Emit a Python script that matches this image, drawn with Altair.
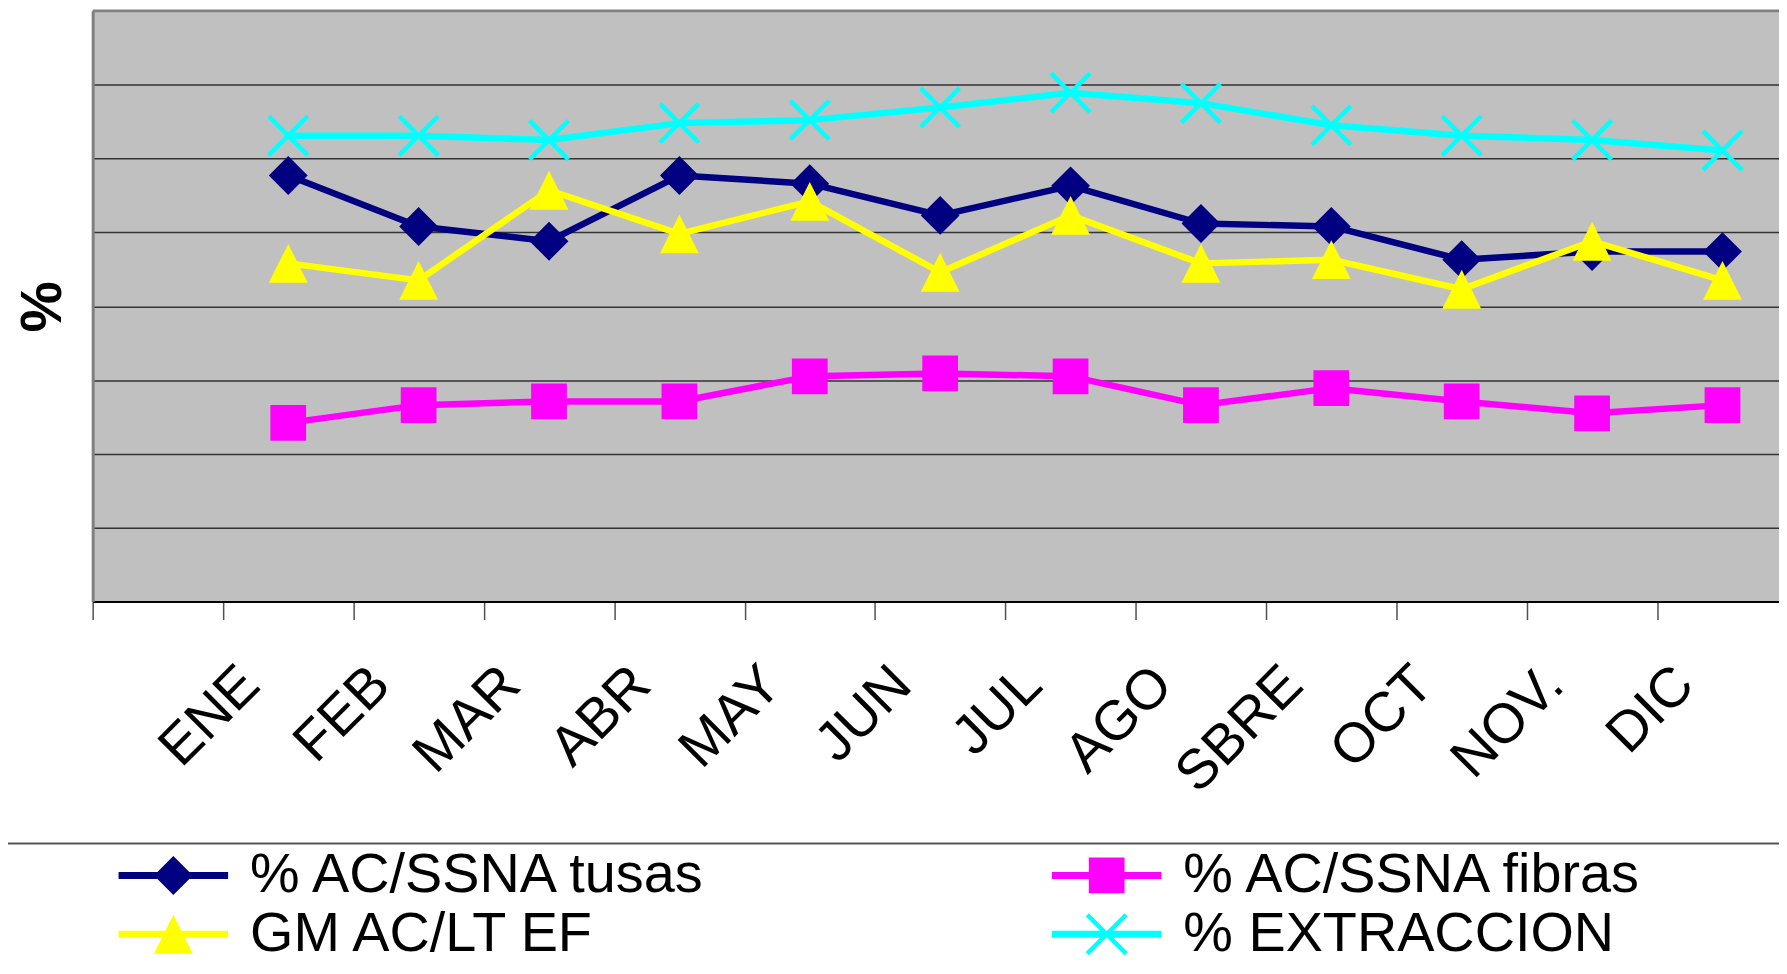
import json
import pandas as pd
import altair as alt

# ---------------- data ----------------
months = ["ENE", "FEB", "MAR", "ABR", "MAY", "JUN", "JUL", "AGO", "SBRE", "OCT", "NOV.", "DIC"]
series_names = ["% AC/SSNA tusas", "% AC/SSNA fibras", "GM AC/LT EF", "% EXTRACCION"]

tusas = [5.77, 5.08, 4.88, 5.77, 5.66, 5.23, 5.63, 5.12, 5.08, 4.63, 4.74, 4.74]
fibras = [2.42, 2.66, 2.71, 2.71, 3.05, 3.09, 3.05, 2.66, 2.89, 2.71, 2.55, 2.66]
gm = [4.58, 4.35, 5.57, 4.98, 5.42, 4.46, 5.23, 4.58, 4.63, 4.23, 4.88, 4.35]
extraccion = [6.31, 6.31, 6.25, 6.48, 6.52, 6.69, 6.89, 6.75, 6.45, 6.31, 6.25, 6.11]

series_values = [tusas, fibras, gm, extraccion]

# ---------------- styles ----------------
colors = ["#000080", "#FF00FF", "#FFFF00", "#00FFFF"]

A = 0.08
cross = (f"M{-1 + A},{-1 - A}L{1 + A},{1 - A}L{1 - A},{1 + A}L{-1 - A},{-1 + A}Z"
         f"M{1 + A},{-1 + A}L{-1 + A},{1 + A}L{-1 - A},{1 - A}L{1 - A},{-1 - A}Z")
diamond = "M-1,0L0,-1L1,0L0,1Z"
square = "M-0.92,-0.92H0.92V0.92H-0.92Z"
triangle = "M0,-1L1,1L-1,1Z"
marker_paths = [diamond, square, triangle, cross]
marker_sizes = [1521, 1521, 1521, 1521]
seg = "M-2.82,-0.18H2.82V0.18H-2.82Z"
legend_paths = [seg + p for p in marker_paths]

FONT = "Liberation Sans, Arial, sans-serif"
W, H = 1693, 593
SLOT = 130.9
XMAX = W / SLOT

rows = []
for name, vals in zip(series_names, series_values):
    for i, (m, v) in enumerate(zip(months, vals)):
        rows.append({"series": name, "month": m, "slot": i + 1, "value": v})
df = pd.DataFrame(rows)
df["x"] = df["slot"] + 0.5

label_list = json.dumps([""] + months)

x_enc = alt.X(
    "x:Q",
    scale=alt.Scale(domain=[0, XMAX], nice=False, zero=False),
    axis=alt.Axis(
        values=list(range(13)),
        labelExpr=f"{label_list}[datum.value]",
        tickSize=18, tickColor="#505050", tickWidth=1.5,
        domainColor="#000000", domainWidth=2,
        grid=False,
        labelAngle=315, labelAlign="right", labelBaseline="middle",
        labelFont=FONT, labelFontSize=56, labelColor="#000000",
        labelPadding=56, labelOffset=27, labelOverlap=False, labelFlush=False,
        title=None,
    ),
)
y_enc = alt.Y(
    "value:Q",
    scale=alt.Scale(domain=[0, 8], nice=False, zero=True),
    axis=alt.Axis(
        values=list(range(9)),
        labels=False, ticks=False,
        domain=True, domainColor="#808080", domainWidth=3,
        grid=True, gridColor="#333333", gridWidth=1.5,
        title="%", titleFont=FONT, titleFontSize=58, titleFontWeight="bold",
        titleColor="#000000", titleAngle=270, titleBaseline="alphabetic",
        titlePadding=32,
    ),
)

base = alt.Chart(df)
layers = []
for name, col, path, size in zip(series_names, colors, marker_paths, marker_sizes):
    sub = base.transform_filter(alt.datum.series == name)
    layers.append(
        sub.mark_line(color=col, strokeWidth=6.5, strokeJoin="round", strokeCap="round")
        .encode(x=x_enc, y=y_enc)
    )
    layers.append(
        sub.mark_point(filled=True, opacity=1, color=col, shape=path, size=size, strokeWidth=0)
        .encode(x=x_enc, y=y_enc)
    )

one = alt.Chart(pd.DataFrame({"k": [0]}))
top_border = one.mark_rule(color="#808080", strokeWidth=3).encode(
    x=alt.value(0), x2=alt.value(W), y=alt.value(0)
)
legend_line = one.mark_rule(color="#555555", strokeWidth=2).encode(
    x=alt.value(-85), x2=alt.value(W), y=alt.value(836)
)

leg = alt.Legend(
    title=None, orient="none", legendX=53, legendY=840,
    direction="horizontal", columns=2,
    symbolSize=1521, symbolStrokeWidth=0, symbolOpacity=1,
    labelFont=FONT, labelFontSize=56, labelColor="#000000",
    labelOffset=49, labelLimit=2000,
    columnPadding=344, rowPadding=3, padding=0, gridAlign="each",
)
legend_layer = base.transform_filter("false").mark_point(filled=True).encode(
    x=x_enc, y=y_enc,
    color=alt.Color("series:N", scale=alt.Scale(domain=series_names, range=colors), legend=leg),
    shape=alt.Shape("series:N", scale=alt.Scale(domain=series_names, range=legend_paths), legend=leg),
)

chart = (
    alt.layer(*layers, top_border, legend_line, legend_layer)
    .properties(
        width=W, height=H,
        padding={"left": 85, "top": 1, "right": 0, "bottom": 360},
        autosize=alt.AutoSizeParams(type="none"),
        background="#FFFFFF",
    )
    .configure_view(fill="#C0C0C0", stroke=None)
)

chart.save("out.html", embed_options={"renderer": "svg", "actions": False})
